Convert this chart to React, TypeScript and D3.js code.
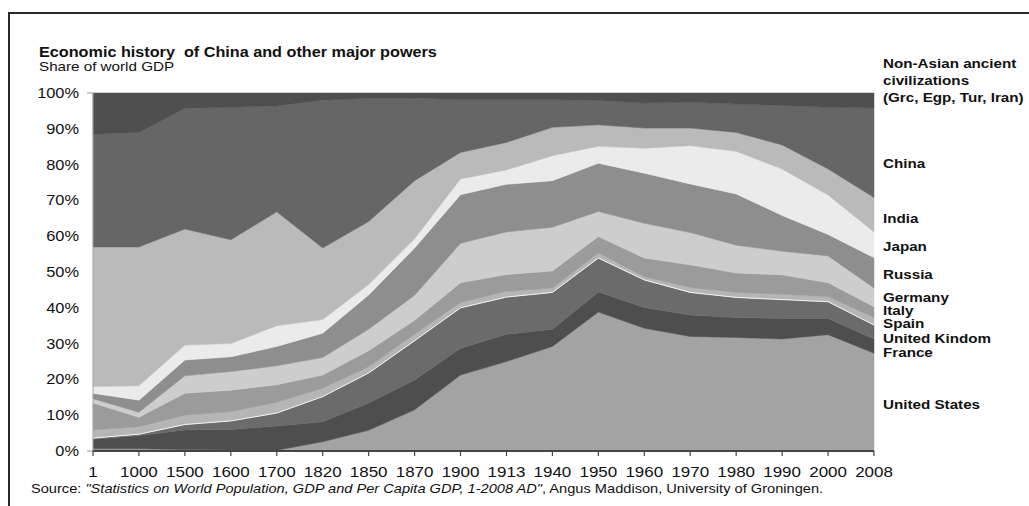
import React from "react";
import * as d3 from "d3";

const years = ["1","1000","1500","1600","1700","1820","1850","1870","1900","1913","1940","1950","1960","1970","1980","1990","2000","2008"];

// Share (%) of the combined GDP of the listed powers
const usShare =       [0.6,0.6,0.4,0.3,0.2,2.6,5.8,11.5,21.2,25.0,29.2,38.8,34.3,32.0,31.7,31.3,32.5,27.3];
const franceShare =   [2.7,3.7,5.5,5.7,6.8,5.6,7.6,8.3,7.5,7.6,4.8,5.6,5.8,6.0,5.6,5.7,4.5,4.0];
const ukShare =       [0.3,0.4,1.5,2.4,3.6,7.0,8.4,11.0,11.3,10.4,10.3,9.5,7.7,6.3,5.6,5.3,4.7,3.9];
const spainShare =    [2.3,2.1,2.6,2.6,3.0,2.3,1.7,1.8,1.5,1.6,1.2,1.4,0.9,1.4,1.4,1.5,1.4,2.1];
const italyShare =    [7.5,2.6,6.1,6.0,4.9,3.7,4.5,3.9,5.5,4.7,4.8,4.6,5.2,6.3,5.4,5.4,3.9,3.0];
const germanyShare =  [1.2,1.4,4.9,5.2,5.3,4.9,6.0,7.0,11.0,11.9,12.2,7.0,9.7,9.0,7.8,6.6,7.5,5.2];
const russiaShare =   [1.5,3.4,4.4,4.1,5.4,6.8,9.6,13.2,13.6,13.3,13.0,13.5,14.0,13.6,14.3,10.0,6.0,8.5];
const japanShare =    [1.9,4.0,4.2,3.7,5.8,3.8,2.9,2.6,4.4,4.0,7.0,4.7,7.0,10.7,11.9,13.0,11.0,7.2];
const indiaShare =    [39.0,38.8,32.4,29.0,31.8,20.0,17.6,16.2,7.4,7.7,7.9,6.0,5.6,4.9,5.3,6.7,7.3,9.6];
const chinaShare =    [31.5,32.0,33.7,37.0,29.6,41.3,34.4,23.1,14.7,11.9,7.7,6.8,7.0,7.2,7.9,11.0,17.2,25.0];
const nonAsianShare = [11.5,11.0,4.3,4.0,3.6,2.0,1.5,1.4,1.9,1.9,1.9,2.1,2.8,2.6,3.1,3.5,4.0,4.2];

const seriesKeys = ["us","france","uk","spain","italy","germany","russia","japan","india","china","nonAsian"];
const seriesValues: Record<string, number[]> = {
  us: usShare, france: franceShare, uk: ukShare, spain: spainShare, italy: italyShare,
  germany: germanyShare, russia: russiaShare, japan: japanShare, india: indiaShare,
  china: chinaShare, nonAsian: nonAsianShare,
};
const seriesColors: Record<string, string> = {
  us: "#a3a3a3", france: "#4e4e4e", uk: "#6b6b6b", spain: "#b5b5b5", italy: "#9b9b9b",
  germany: "#cdcdcd", russia: "#8e8e8e", japan: "#ebebeb", india: "#bababa",
  china: "#666666", nonAsian: "#4f4f4f",
};

const yTicks = [0,10,20,30,40,50,60,70,80,90,100];

const legendLabels = [
  { text: "Non-Asian ancient", y: 63 },
  { text: "civilizations", y: 80 },
  { text: "(Grc, Egp, Tur, Iran)", y: 97 },
  { text: "China", y: 163 },
  { text: "India", y: 218 },
  { text: "Japan", y: 246 },
  { text: "Russia", y: 274 },
  { text: "Germany", y: 297 },
  { text: "Italy", y: 310 },
  { text: "Spain", y: 323 },
  { text: "United Kindom", y: 338 },
  { text: "France", y: 352 },
  { text: "United States", y: 404 },
];

const FONT = "'Liberation Sans', Arial, Helvetica, sans-serif";
const SX = 1.17;

function T(props: { x: number; y: number; size: number; anchor?: string; weight?: string; sx?: number; children: React.ReactNode }) {
  const { x, y, size, anchor = "start", weight = "normal", sx = SX, children } = props;
  return (
    <text transform={`translate(${x},${y}) scale(${sx},1)`} fontSize={size} fontWeight={weight}
      textAnchor={anchor} fontFamily={FONT} fill="#111" style={{ whiteSpace: "pre" }}>
      {children}
    </text>
  );
}

export default function App() {
  const W = 1029, H = 506;
  const left = 93, right = 874, top = 93, bottom = 451;
  const x = d3.scalePoint<string>().domain(years).range([left, right]);
  const y = d3.scaleLinear().domain([0, 100]).range([bottom, top]);

  const rows = years.map((yr, i) => {
    const r: any = { year: yr };
    seriesKeys.forEach((k) => (r[k] = seriesValues[k][i]));
    return r;
  });
  const stacked = d3.stack<any>().keys(seriesKeys)(rows);
  const area = d3.area<any>()
    .x((d) => x(d.data.year) as number)
    .y0((d) => y(d[0]))
    .y1((d) => y(d[1]));
  const ukLayer = stacked[seriesKeys.indexOf("uk")];
  const topLine = d3.line<any>().x((d) => x(d.data.year) as number).y((d) => y(d[1]));

  return (
    <svg width={W} height={H} style={{ position: "absolute", left: 0, top: 0, background: "#fff" }}>
      <rect x={0} y={0} width={W} height={H} fill="#fff" />
      <rect x={9} y={13} width={W + 20} height={H + 20} fill="none" stroke="#2a2a2a" strokeWidth={2} />

      <T x={39} y={57} size={15} weight="bold" sx={1.08}>{"Economic history  of China and other major powers"}</T>
      <T x={39} y={71} size={13}>Share of world GDP</T>

      {stacked.map((layer) => (
        <path key={layer.key} d={area(layer) as string} fill={seriesColors[layer.key]} stroke={seriesColors[layer.key]} strokeWidth={0.5} />
      ))}
      <path d={topLine(ukLayer) as string} fill="none" stroke="#f2f2f2" strokeWidth={1} />

      {/* y axis */}
      <line x1={left} x2={left} y1={top} y2={bottom} stroke="#aaa" strokeWidth={1} />
      {[0, 100].map((t) => (
        <line key={t} x1={left - 6} x2={left} y1={y(t)} y2={y(t)} stroke="#999" strokeWidth={1} />
      ))}
      {yTicks.map((t) => (
        <T key={t} x={79} y={y(t) + 5} size={14} anchor="end">{`${t}%`}</T>
      ))}

      {/* x axis */}
      <line x1={left} x2={right} y1={bottom} y2={bottom} stroke="#444" strokeWidth={2} />
      {years.map((yr) => (
        <line key={yr} x1={x(yr)} x2={x(yr)} y1={bottom} y2={bottom + 5} stroke="#444" strokeWidth={1.2} />
      ))}
      {years.map((yr) => (
        <T key={yr} x={x(yr) as number} y={477} size={14.5} anchor="middle">{yr}</T>
      ))}

      {legendLabels.map((l) => (
        <T key={l.text} x={883} y={l.y + 4.7} size={13} weight="bold">{l.text}</T>
      ))}

      <text transform={`translate(31,493) scale(${SX},1)`} fontSize={12.5} fontFamily={FONT} fill="#111">
        <tspan>Source: </tspan>
        <tspan fontStyle="italic">"Statistics on World Population, GDP and Per Capita GDP, 1-2008 AD"</tspan>
        <tspan>, Angus Maddison, University of Groningen.</tspan>
      </text>
    </svg>
  );
}
